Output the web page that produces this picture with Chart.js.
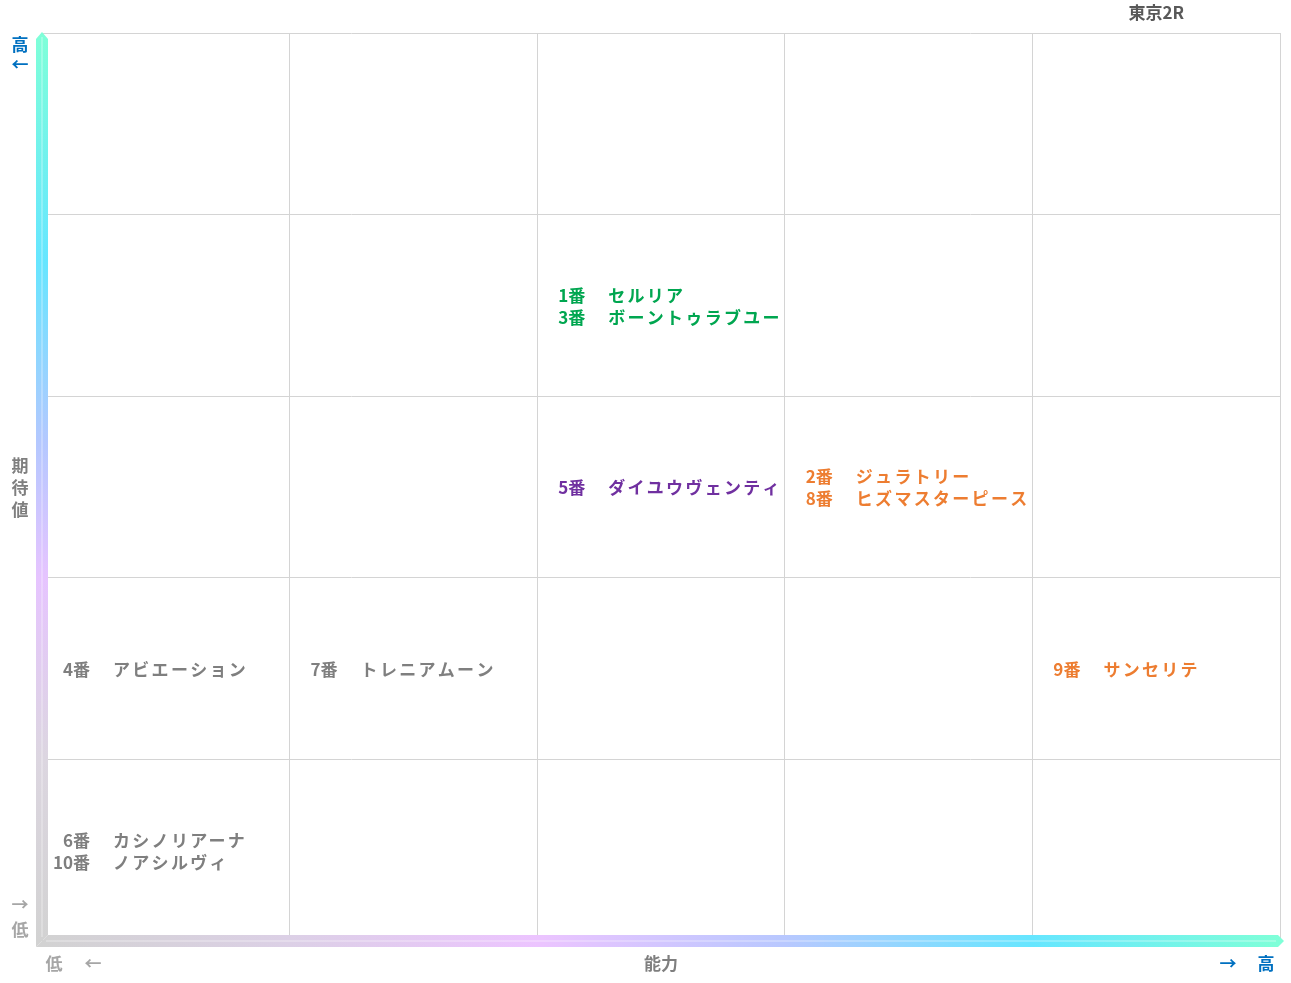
<!DOCTYPE html>
<html lang="ja">
<head>
<meta charset="utf-8">
<title>東京2R</title>
<script src="https://cdn.jsdelivr.net/npm/chart.js@4/dist/chart.umd.min.js"></script>
<style>
  html, body { margin: 0; padding: 0; background: #fff; }
  canvas { display: block; }
</style>
</head>
<body>
<canvas id="chart" width="1291" height="983"></canvas>
<script>
(function() {
  'use strict';

  // ===== data =====
  const TITLE = '東京2R';
  const horseNums  = [1, 3, 5, 2, 8, 4, 7, 9, 6, 10];
  const horseNames = ['セルリア', 'ボーントゥラブユー', 'ダイユウヴェンティ', 'ジュラトリー', 'ヒズマスターピース',
                      'アビエーション', 'トレニアムーン', 'サンセリテ', 'カシノリアーナ', 'ノアシルヴィ'];
  // 能力 (x) / 期待値 (y) の区分 0..4
  const abilityRank  = [2, 2, 2, 3, 3, 0, 1, 4, 0, 0];
  const expectedRank = [3, 3, 2, 2, 2, 1, 1, 1, 0, 0];
  const markGroup    = ['A', 'A', 'B', 'C', 'C', 'D', 'D', 'C', 'D', 'D'];
  const RANKS = 5;

  const groupColors = { A: '#00a650', B: '#7030a0', C: '#ed7d31', D: '#7f7f7f' };
  const FONT = '"Noto Sans CJK JP", "Noto Sans", sans-serif';

  // ===== 軸の矢印（グラデーション） =====
  const axisArrows = {
    id: 'axisArrows',
    afterDraw(chart) {
      const { ctx, chartArea: a } = chart;
      const h = 6;
      ctx.save();

      // y axis
      let g = ctx.createLinearGradient(0, a.top, 0, a.bottom);
      g.addColorStop(0, '#7fffd8');
      g.addColorStop(0.25, '#66e6ff');
      g.addColorStop(0.45, '#b4c8ff');
      g.addColorStop(0.6, '#e6c4ff');
      g.addColorStop(0.8, '#dcd6e0');
      g.addColorStop(1, '#d2d2d2');
      ctx.fillStyle = g;
      ctx.beginPath();
      ctx.moveTo(a.left - h, a.top + h);
      ctx.lineTo(a.left, a.top - 1);
      ctx.lineTo(a.left + h, a.top + h);
      ctx.lineTo(a.left + h, a.bottom - h);
      ctx.lineTo(a.left - h, a.bottom + h);
      ctx.closePath();
      ctx.fill();
      ctx.fillStyle = 'rgba(255,255,255,0.25)';
      ctx.fillRect(a.left - 1, a.top + 4, 2, a.bottom - a.top - 8);

      // x axis
      g = ctx.createLinearGradient(a.left, 0, a.right, 0);
      g.addColorStop(0, '#d2d2d2');
      g.addColorStop(0.2, '#dcd0e6');
      g.addColorStop(0.4, '#ecc4ff');
      g.addColorStop(0.6, '#b8c8ff');
      g.addColorStop(0.8, '#66e6ff');
      g.addColorStop(1, '#7fffd8');
      ctx.fillStyle = g;
      ctx.beginPath();
      ctx.moveTo(a.left - h, a.bottom + h);
      ctx.lineTo(a.left + h, a.bottom - h);
      ctx.lineTo(a.right - 2, a.bottom - h);
      ctx.lineTo(a.right + 4, a.bottom);
      ctx.lineTo(a.right - 2, a.bottom + h);
      ctx.closePath();
      ctx.fill();
      ctx.fillStyle = 'rgba(255,255,255,0.25)';
      ctx.fillRect(a.left + 4, a.bottom - 1, a.right - a.left - 8, 2);

      ctx.restore();
    }
  };

  // ===== ラベル =====
  const labelsPlugin = {
    id: 'cellLabels',
    afterDatasetsDraw(chart) {
      const { ctx, chartArea: a } = chart;
      const xs = chart.scales.x, ys = chart.scales.y;
      ctx.save();
      ctx.font = 'bold 17px ' + FONT;
      ctx.textBaseline = 'middle';

      // セルごとにまとめる
      const cells = {};
      horseNums.forEach((n, i) => {
        const key = abilityRank[i] + '_' + expectedRank[i];
        (cells[key] = cells[key] || []).push(i);
      });

      Object.keys(cells).forEach(key => {
        const list = cells[key];
        const i0 = list[0];
        const left = xs.getPixelForValue(abilityRank[i0]);
        const cy = ys.getPixelForValue(expectedRank[i0] + 0.5);
        const lh = 22;
        list.forEach((i, k) => {
          const y = cy + (k - (list.length - 1) / 2) * lh + 1;
          const bx = left + 31;
          ctx.fillStyle = groupColors[markGroup[i]];
          ctx.letterSpacing = '0px';
          ctx.textAlign = 'right';
          ctx.fillText(String(horseNums[i]), bx, y);
          ctx.textAlign = 'left';
          ctx.fillText('番', bx, y);
          ctx.letterSpacing = '2.3px';
          ctx.fillText(horseNames[i], bx + 40, y);
        });
      });

      // タイトル
      ctx.letterSpacing = '0px';
      ctx.textAlign = 'center';
      ctx.fillStyle = '#595959';
      ctx.fillText(TITLE, xs.getPixelForValue(4.5), 13);

      // x 軸ラベル
      const by = a.bottom + 23;
      ctx.fillStyle = '#7f7f7f';
      ctx.fillText('能力', (a.left + a.right) / 2, by);
      ctx.fillStyle = '#a6a6a6';
      ctx.fillText('低', a.left + 12, by);
      ctx.fillText('←', a.left + 51, by);
      ctx.fillStyle = '#0070c0';
      ctx.fillText('→', a.right - 52, by);
      ctx.fillText('高', a.right - 14, by);

      // y 軸ラベル
      const lx = 20;
      ctx.fillStyle = '#0070c0';
      ctx.fillText('高', lx, a.top + 12);
      ctx.fillText('←', lx, a.top + 32);
      ctx.fillStyle = '#7f7f7f';
      const mid = (a.top + a.bottom) / 2;
      ['期', '待', '値'].forEach((c, k) => ctx.fillText(c, lx, mid + 1 + (k - 1) * 22));
      ctx.fillStyle = '#a6a6a6';
      ctx.fillText('→', lx, a.bottom - 36);
      ctx.fillText('低', lx, a.bottom - 11);

      ctx.restore();
    }
  };

  // ===== チャート =====
  const points = horseNums.map((n, i) => ({ x: abilityRank[i] + 0.5, y: expectedRank[i] + 0.5 }));

  const axisOpts = {
    type: 'linear',
    min: 0,
    max: RANKS,
    ticks: { display: false, stepSize: 1 },
    grid: { color: '#d4d4d4', lineWidth: 1, drawTicks: false },
    border: { display: false }
  };

  new Chart(document.getElementById('chart'), {
    type: 'scatter',
    data: {
      datasets: [{
        label: TITLE,
        data: points,
        pointRadius: 0,
        pointHoverRadius: 0
      }]
    },
    options: {
      responsive: false,
      animation: false,
      layout: { padding: { left: 42, right: 11, top: 33, bottom: 42 } },
      plugins: {
        legend: { display: false },
        tooltip: { enabled: false },
        title: { display: false }
      },
      scales: { x: axisOpts, y: { ...axisOpts } }
    },
    plugins: [axisArrows, labelsPlugin]
  });

})();
</script>
</body>
</html>
